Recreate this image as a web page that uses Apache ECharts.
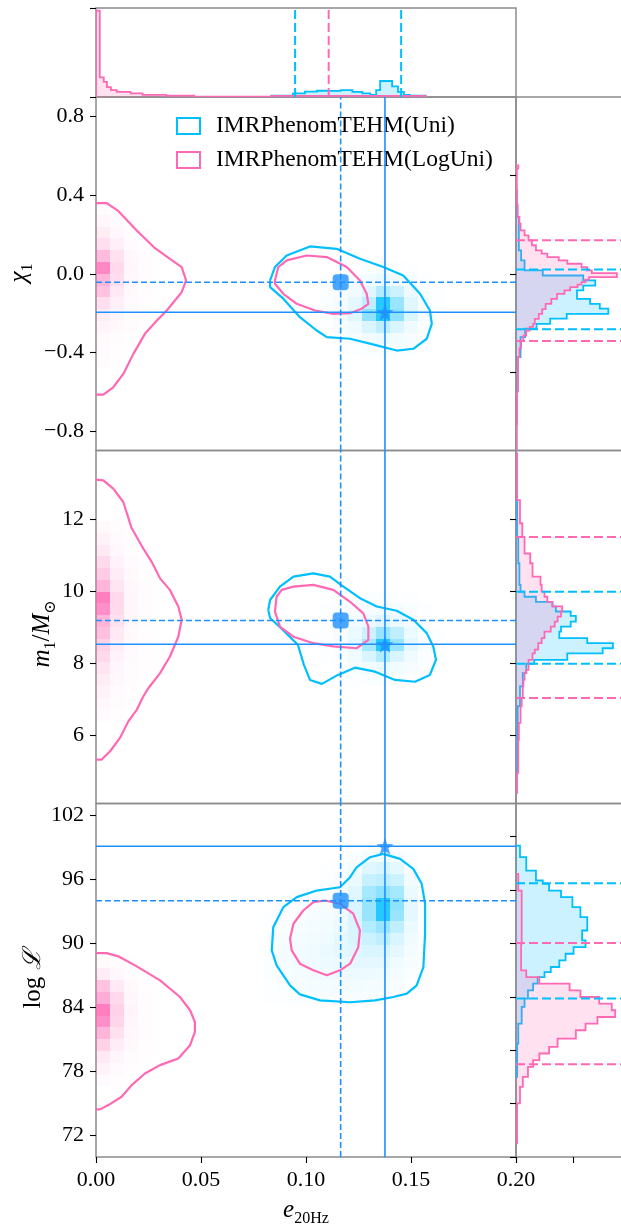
<!DOCTYPE html>
<html>
<head>
<meta charset="utf-8">
<script src="https://cdn.jsdelivr.net/npm/echarts@6/dist/echarts.min.js"></script>
<style>
  html, body { margin: 0; padding: 0; background: #fff; }
  #chart { width: 621px; height: 1224px; }
</style>
</head>
<body>
<div id="chart"></div>
<script>
// ---------------- axis ranges ----------------
const eRange = [0, 0.2];
const chiRange = [-0.9, 0.9];
const massRange = [4.1, 13.9];
const logLRange = [70, 103.1];
const NBINS = 30; // 2-D histogram bins per axis

// tick values
const eTicks = [0, 0.05, 0.1, 0.15, 0.2];
const chiTicks = [-0.8, -0.4, 0, 0.4, 0.8];
const massTicks = [6, 8, 10, 12];
const logLTicks = [72, 78, 84, 90, 96, 102];
const chiSideTicks = [-0.5, 0, 0.5];
const massSideTicks = [6, 8, 10, 12];
const logLSideTicks = [70, 75, 80, 85, 90, 95, 100];

// reference (injected) parameters: dashed = square marker, solid = star marker
const eDashed = 0.1165, eSolid = 0.1376;
const chiDashed = -0.043, chiSolid = -0.196;
const massDashed = 9.18, massSolid = 8.52;
const logLDashed = 94.0, logLSolid = 99.1;

// 90% credible bounds / medians shown in the marginals
const eBlueQuant = [0.0948, 0.1453];
const ePinkQuant = [0.1108];
const chiBlueQuant = [0.022, -0.283];
const chiPinkQuant = [0.17, -0.343];
const massBlueQuant = [9.98, 7.98];
const massPinkQuant = [11.5, 7.03];
const logLBlueQuant = [95.64, 84.83];
const logLPinkQuant = [90.03, 78.69];

// ---------------- 1-D histograms: [lo, hi, height] ----------------
const eHistPink = [[0,0.0018,0.97],[0.0018,0.0037,0.22],[0.0037,0.0052,0.17],[0.0052,0.0071,0.11],[0.0071,0.0099,0.077],[0.0099,0.0165,0.057],[0.0165,0.0222,0.04],[0.0222,0.0335,0.023],[0.0335,0.0467,0.015],[0.0467,0.0835,0.004],[0.0835,0.157,0.012]];
const eHistBlue = [[0.0835,0.0938,0.015],[0.0938,0.0995,0.04],[0.0995,0.1052,0.06],[0.1052,0.1108,0.07],[0.1108,0.1165,0.068],[0.1165,0.1221,0.077],[0.1221,0.1268,0.057],[0.1268,0.1306,0.04],[0.1306,0.1334,0.023],[0.1334,0.1353,0.077],[0.1353,0.141,0.18],[0.141,0.1438,0.12],[0.1438,0.1466,0.057],[0.1466,0.1495,0.023],[0.1495,0.157,0.015]];

const chiHistPink = [[-0.9,-0.765,0.01],[-0.765,-0.6,0.02],[-0.6,-0.425,0.035],[-0.425,-0.38,0.06],[-0.38,-0.34,0.09],[-0.34,-0.315,0.13],[-0.315,-0.289,0.18],[-0.289,-0.27,0.24],[-0.27,-0.255,0.3],[-0.255,-0.23,0.33],[-0.23,-0.204,0.4],[-0.204,-0.18,0.46],[-0.18,-0.153,0.52],[-0.153,-0.128,0.62],[-0.128,-0.102,0.72],[-0.102,-0.085,0.85],[-0.085,-0.068,0.95],[-0.068,-0.055,1.08],[-0.055,-0.043,1.15],[-0.043,-0.03,1.22],[-0.03,-0.017,1.28],[-0.017,0.003,1.77],[0.003,0.017,1.33],[0.017,0.034,1.25],[0.034,0.051,1.15],[0.051,0.068,0.9],[0.068,0.085,0.75],[0.085,0.102,0.55],[0.102,0.119,0.45],[0.119,0.145,0.35],[0.145,0.17,0.28],[0.17,0.195,0.22],[0.195,0.221,0.15],[0.221,0.255,0.08],[0.255,0.289,0.06],[0.289,0.35,0.03],[0.35,0.42,0.02],[0.42,0.535,0.015],[0.535,0.552,0.04]];
const chiHistBlue = [[-0.9,-0.595,0.01],[-0.595,-0.425,0.03],[-0.425,-0.323,0.08],[-0.323,-0.28,0.16],[-0.28,-0.255,0.36],[-0.255,-0.229,0.6],[-0.229,-0.204,0.89],[-0.204,-0.178,1.62],[-0.178,-0.153,1.47],[-0.153,-0.128,1.3],[-0.128,-0.085,1.07],[-0.085,-0.06,1.18],[-0.06,-0.034,1.39],[-0.034,-0.009,1.18],[-0.009,0.017,0.47],[0.017,0.068,0.15],[0.068,0.119,0.09],[0.119,0.289,0.05],[0.289,0.424,0.02]];

const massHistPink = [[4.4,4.95,0.02],[4.95,5.87,0.04],[5.87,6.34,0.05],[6.34,6.8,0.08],[6.8,7.03,0.1],[7.03,7.35,0.12],[7.35,7.53,0.13],[7.53,7.72,0.15],[7.72,7.81,0.18],[7.81,8.09,0.22],[8.09,8.27,0.29],[8.27,8.37,0.33],[8.37,8.55,0.39],[8.55,8.69,0.45],[8.69,8.87,0.5],[8.87,9.01,0.61],[9.01,9.15,0.68],[9.15,9.29,0.73],[9.29,9.43,0.79],[9.43,9.57,0.81],[9.57,9.7,0.64],[9.7,9.84,0.55],[9.84,9.98,0.5],[9.98,10.17,0.45],[10.17,10.4,0.43],[10.4,10.77,0.29],[10.77,11.04,0.25],[11.04,11.5,0.15],[11.5,11.88,0.11],[11.88,12.52,0.07],[12.52,13.81,0.02]];
const massHistBlue = [[4.4,5.87,0.02],[5.87,6.8,0.03],[6.8,7.35,0.07],[7.35,7.72,0.12],[7.72,7.98,0.18],[7.98,8.09,0.32],[8.09,8.27,0.9],[8.27,8.41,1.52],[8.41,8.55,1.7],[8.55,8.69,1.25],[8.69,8.87,0.76],[8.87,9.01,0.79],[9.01,9.15,0.96],[9.15,9.31,1.05],[9.31,9.43,0.96],[9.43,9.57,0.7],[9.57,9.7,0.64],[9.7,9.84,0.35],[9.84,9.98,0.15],[9.98,10.17,0.08],[10.17,10.77,0.06],[10.77,11.5,0.04],[11.5,13.81,0.02]];

const logLHistPink = [[71.28,75.02,0.02],[75.02,76.57,0.07],[76.57,77.51,0.12],[77.51,78.44,0.21],[78.44,79.07,0.3],[79.07,79.69,0.41],[79.69,80.31,0.58],[80.31,81.09,0.73],[81.09,81.87,1.05],[81.87,82.49,1.22],[82.49,83.11,1.43],[83.11,83.74,1.74],[83.74,84.36,1.68],[84.36,84.98,1.46],[84.98,85.61,1.13],[85.61,86.23,0.94],[86.23,86.85,0.41],[86.85,87.48,0.18],[87.48,89.97,0.09],[89.97,94.95,0.1],[94.95,96.51,0.04]];
const logLHistBlue = [[77.51,80.62,0.02],[80.62,82.49,0.04],[82.49,84.05,0.1],[84.05,84.83,0.15],[84.83,85.61,0.21],[85.61,86.23,0.3],[86.23,86.85,0.38],[86.85,87.32,0.5],[87.32,87.79,0.61],[87.79,88.41,0.76],[88.41,89.03,0.87],[89.03,89.66,1.01],[89.66,90.28,1.22],[90.28,91.21,1.16],[91.21,92.46,1.25],[92.46,93.39,1.13],[93.39,94.33,0.99],[94.33,94.95,0.79],[94.95,95.58,0.58],[95.58,95.89,0.47],[95.89,96.82,0.35],[96.82,98.07,0.18],[98.07,99.16,0.07]];

// ---------------- 2-D histogram densities (top row first) ----------------
// corner = [first column index, lowest row index] on the NBINS x NBINS grid
const chiPinkCorner = [0, 7];
const chiPinkDensity = [
  [0.02,0.01,0,0],[0.06,0.03,0.01,0],[0.12,0.05,0.02,0.01],[0.22,0.1,0.03,0.01],
  [0.45,0.2,0.05,0.02],[0.8,0.25,0.06,0.02],[0.5,0.22,0.05,0.02],[0.4,0.15,0.04,0.02],
  [0.22,0.1,0.03,0.01],[0.12,0.06,0.02,0.01],[0.07,0.04,0.02,0.01],[0.04,0.02,0.01,0],
  [0.03,0.01,0,0],[0.02,0.01,0,0]];
const chiBlueCorner = [16, 8];
const chiBlueDensity = [
  [0,0,0.01,0.02,0.03,0.02,0.01,0,0],
  [0.01,0.02,0.03,0.05,0.08,0.05,0.03,0.01,0],
  [0.01,0.03,0.06,0.12,0.3,0.2,0.07,0.02,0.01],
  [0.02,0.04,0.1,0.25,0.85,0.4,0.12,0.03,0.01],
  [0.02,0.05,0.12,0.45,0.85,0.45,0.15,0.04,0.01],
  [0.01,0.03,0.06,0.15,0.25,0.15,0.06,0.02,0],
  [0,0.02,0.03,0.05,0.07,0.05,0.03,0.01,0],
  [0,0.01,0.01,0.02,0.02,0.02,0.01,0,0]];

const massPinkCorner = [0, 7];
const massPinkDensity = [
  [0.04,0.02,0.01,0],[0.08,0.03,0.01,0],[0.14,0.05,0.02,0.01],[0.25,0.08,0.03,0.01],
  [0.35,0.12,0.04,0.01],[0.5,0.18,0.05,0.02],[0.85,0.25,0.06,0.02],[0.75,0.25,0.06,0.02],
  [0.5,0.2,0.05,0.02],[0.42,0.15,0.04,0.01],[0.3,0.12,0.03,0.01],[0.25,0.08,0.03,0.01],
  [0.18,0.06,0.02,0.01],[0.12,0.05,0.02,0],[0.08,0.03,0.01,0],[0.05,0.02,0.01,0],[0.03,0.01,0,0]];
const massBlueCorner = [16, 10];
const massBlueDensity = [
  [0,0.01,0.01,0.02,0.02,0.01,0.01,0,0],
  [0.01,0.02,0.03,0.04,0.05,0.04,0.02,0.01,0],
  [0.01,0.02,0.05,0.08,0.12,0.08,0.04,0.01,0],
  [0.01,0.03,0.08,0.2,0.4,0.25,0.08,0.02,0.01],
  [0.01,0.03,0.1,0.35,0.85,0.4,0.1,0.03,0.01],
  [0.01,0.02,0.06,0.15,0.3,0.15,0.06,0.02,0],
  [0,0.01,0.03,0.05,0.08,0.05,0.03,0.01,0],
  [0,0,0.01,0.02,0.02,0.02,0.01,0,0]];

const logLPinkCorner = [0, 6];
const logLPinkDensity = [
  [0.04,0.02,0.01,0],[0.12,0.05,0.02,0.01],[0.4,0.15,0.04,0.01],[0.55,0.25,0.06,0.02],
  [0.85,0.3,0.07,0.02],[0.75,0.28,0.06,0.02],[0.5,0.2,0.05,0.02],[0.3,0.12,0.04,0.01],
  [0.15,0.06,0.02,0.01],[0.08,0.03,0.01,0],[0.03,0.01,0,0]];
const logLBlueCorner = [12, 13];
const logLBlueDensity = [
  [0,0,0,0,0,0,0.02,0.04,0.05,0.03,0.01,0],
  [0,0,0,0,0.01,0.02,0.05,0.12,0.15,0.1,0.03,0],
  [0,0,0,0,0.01,0.03,0.08,0.22,0.25,0.2,0.05,0.01],
  [0,0,0.01,0.01,0.02,0.04,0.12,0.35,0.45,0.35,0.08,0.01],
  [0,0.01,0.01,0.02,0.03,0.05,0.15,0.4,0.85,0.45,0.1,0.02],
  [0.01,0.01,0.02,0.03,0.04,0.06,0.15,0.4,0.85,0.4,0.1,0.02],
  [0.01,0.02,0.03,0.04,0.05,0.08,0.15,0.3,0.4,0.25,0.08,0.01],
  [0.01,0.03,0.04,0.05,0.06,0.1,0.15,0.2,0.25,0.15,0.06,0.01],
  [0.02,0.04,0.05,0.06,0.08,0.1,0.12,0.15,0.15,0.1,0.04,0.01],
  [0.02,0.04,0.05,0.06,0.07,0.08,0.1,0.1,0.1,0.06,0.03,0],
  [0.02,0.03,0.04,0.05,0.06,0.06,0.07,0.07,0.06,0.04,0.02,0],
  [0.01,0.02,0.03,0.04,0.04,0.05,0.05,0.04,0.04,0.03,0.01,0],
  [0.01,0.01,0.02,0.02,0.03,0.03,0.03,0.03,0.02,0.01,0,0]];

// ---------------- 90% contours: [e, value] ----------------
const chiContourPinkLow = [[0,0.36],[0.0051,0.36],[0.0106,0.32],[0.0194,0.22],[0.0281,0.13],[0.0352,0.076],[0.0408,0.034],[0.0429,-0.034],[0.0408,-0.094],[0.0337,-0.187],[0.029,-0.238],[0.0233,-0.306],[0.0178,-0.408],[0.013,-0.51],[0.0082,-0.578],[0.0035,-0.615],[0,-0.615]];
const chiContourBlue = [[0.0829,-0.034],[0.0852,0.034],[0.0908,0.093],[0.1019,0.139],[0.1146,0.127],[0.1257,0.076],[0.1368,0.034],[0.1463,-0.009],[0.1543,-0.102],[0.159,-0.187],[0.1599,-0.255],[0.1575,-0.331],[0.1511,-0.382],[0.1432,-0.391],[0.1337,-0.365],[0.121,-0.331],[0.1099,-0.323],[0.1051,-0.289],[0.0971,-0.221],[0.0892,-0.127],[0.0829,-0.068],[0.0829,-0.034]];
const chiContourPinkHigh = [[0.0852,-0.034],[0.0868,0.034],[0.0908,0.068],[0.1003,0.093],[0.1099,0.085],[0.1194,0.034],[0.1257,-0.034],[0.1289,-0.102],[0.1297,-0.153],[0.1265,-0.178],[0.121,-0.201],[0.113,-0.204],[0.1043,-0.187],[0.0956,-0.153],[0.0892,-0.102],[0.0852,-0.051],[0.0852,-0.034]];

const massContourPinkLow = [[0,13.09],[0.0035,13.07],[0.0082,12.84],[0.013,12.47],[0.017,11.74],[0.0225,11.18],[0.0265,10.81],[0.0305,10.35],[0.0352,10.03],[0.0392,9.57],[0.0408,9.2],[0.0392,8.73],[0.0352,8.18],[0.0305,7.72],[0.0249,7.3],[0.0225,7.07],[0.0194,6.7],[0.0154,6.38],[0.0114,5.92],[0.0067,5.55],[0.0027,5.32],[0,5.32]];
const massContourBlue = [[0.082,9.47],[0.0829,9.75],[0.0876,10.12],[0.094,10.4],[0.1035,10.49],[0.1114,10.4],[0.1178,10.12],[0.1257,9.8],[0.1337,9.57],[0.1432,9.45],[0.1511,9.2],[0.1575,8.83],[0.1606,8.46],[0.1619,8.09],[0.159,7.67],[0.1519,7.48],[0.1424,7.53],[0.1329,7.76],[0.1233,7.87],[0.1152,7.67],[0.1076,7.42],[0.1019,7.53],[0.099,7.95],[0.0962,8.5],[0.089,8.92],[0.0829,9.25],[0.082,9.47]];
const massContourPinkHigh = [[0.086,9.84],[0.0852,9.43],[0.0876,9.01],[0.094,8.73],[0.1035,8.55],[0.113,8.46],[0.1241,8.41],[0.1297,8.64],[0.1297,9.01],[0.1273,9.38],[0.121,9.7],[0.113,10.03],[0.1035,10.17],[0.094,10.12],[0.0884,10.03],[0.086,9.84]];

const logLContourPinkLow = [[0,89.09],[0.0051,89.09],[0.0106,88.79],[0.0194,87.85],[0.0305,86.54],[0.04,84.98],[0.0448,83.74],[0.0471,82.64],[0.0471,81.71],[0.0448,80.47],[0.0392,79.22],[0.0305,78.6],[0.0233,77.82],[0.017,76.73],[0.0122,75.64],[0.0059,74.86],[0.0019,74.46],[0,74.46]];
const logLContourBlue = [[0.1368,98.38],[0.1448,97.92],[0.1511,96.98],[0.1551,95.58],[0.1567,93.71],[0.1567,90.91],[0.1559,87.79],[0.1527,86.07],[0.148,85.3],[0.1416,84.98],[0.1329,84.67],[0.121,84.49],[0.1067,84.67],[0.0971,85.23],[0.0924,86.07],[0.086,87.94],[0.0837,89.35],[0.0844,91.52],[0.0892,93.39],[0.0956,94.33],[0.1051,94.95],[0.1162,95.26],[0.121,96.2],[0.1241,97.13],[0.1305,98.07],[0.1368,98.38]];
const logLContourPinkHigh = [[0.109,94.02],[0.1162,93.71],[0.1225,92.78],[0.1257,91.21],[0.1249,89.65],[0.121,88.1],[0.1162,87.48],[0.1099,87.01],[0.1035,87.48],[0.0971,88.1],[0.0932,89.35],[0.0924,90.44],[0.094,91.84],[0.0987,93.08],[0.1035,93.86],[0.109,94.02]];

// ---------------- styling ----------------
const BLUE = '#00BFFF', BLUE_RGB = '0,191,255';
const PINK = '#FF69B4', PINK_RGB = '255,105,180';
const CROSS = '#1E90FF';
const SERIF = '"Liberation Serif", "DejaVu Serif", serif';
const SPINE = '#8c8c8c';
const SIDE_W = 110;           // marginal panel width, runs past the right edge
const SIDE_UNIT = 57;         // pixels per density unit in the marginals
const SIDE_MAX = SIDE_W / SIDE_UNIT;

const gridDefs = [
  { left: 96, top: 8, width: 420, height: 89 },           // 0: e marginal
  { left: 96, top: 97, width: 420, height: 353.5 },       // 1: chi
  { left: 96, top: 450.5, width: 420, height: 353 },      // 2: mass
  { left: 96, top: 803.5, width: 420, height: 353.5 },    // 3: logL
  { left: 516, top: 97, width: SIDE_W, height: 353.5 },   // 4: chi marginal
  { left: 516, top: 450.5, width: SIDE_W, height: 353 },  // 5: mass marginal
  { left: 516, top: 803.5, width: SIDE_W, height: 353.5 } // 6: logL marginal
].map(g => Object.assign({
  show: true, borderColor: SPINE, borderWidth: 1.5, backgroundColor: 'transparent',
  containLabel: false, outerBoundsMode: 'none'
}, g));

const tickStyle = { lineStyle: { color: '#000', width: 1.1 }, length: 6, inside: false };
const labelFont = { fontFamily: SERIF, fontSize: 22, color: '#000' };
const minusFmt = d => v => (v < 0 ? '\u2212' : '') + Math.abs(v).toFixed(d);

function hiddenAxis(grid, range, ticks) {
  return {
    type: 'value', gridIndex: grid, min: range[0], max: range[1],
    axisLine: { show: false }, splitLine: { show: false },
    axisLabel: { show: false },
    axisTick: ticks ? Object.assign({ show: true, customValues: ticks }, tickStyle) : { show: false }
  };
}
function labelledAxis(grid, range, ticks, fmt) {
  return {
    type: 'value', gridIndex: grid, min: range[0], max: range[1],
    axisLine: { show: false }, splitLine: { show: false },
    axisTick: Object.assign({ show: true, customValues: ticks }, tickStyle),
    axisLabel: Object.assign({ show: true, customValues: ticks, margin: 12, formatter: fmt }, labelFont)
  };
}

const xAxes = [
  hiddenAxis(0, eRange), hiddenAxis(1, eRange), hiddenAxis(2, eRange),
  labelledAxis(3, eRange, eTicks, minusFmt(2)),
  hiddenAxis(4, [0, SIDE_MAX]), hiddenAxis(5, [0, SIDE_MAX]), hiddenAxis(6, [0, SIDE_MAX], [0, 1])
];
const yAxes = [
  hiddenAxis(0, [0, 1], [0, 1]),
  labelledAxis(1, chiRange, chiTicks, minusFmt(1)),
  labelledAxis(2, massRange, massTicks, minusFmt(0)),
  labelledAxis(3, logLRange, logLTicks, minusFmt(0)),
  hiddenAxis(4, chiRange, chiSideTicks),
  hiddenAxis(5, massRange, massSideTicks),
  hiddenAxis(6, logLRange, logLSideTicks)
];

// ---------------- series builders ----------------
const series = [];

function densityCells(corner, density, xr, yr) {
  const dx = (xr[1] - xr[0]) / NBINS, dy = (yr[1] - yr[0]) / NBINS;
  const out = [];
  const nRows = density.length;
  density.forEach((row, i) => {
    const k = corner[1] + nRows - 1 - i;
    row.forEach((v, j) => {
      if (v > 0) {
        const c = corner[0] + j;
        out.push([xr[0] + c * dx, xr[0] + (c + 1) * dx, yr[0] + k * dy, yr[0] + (k + 1) * dy, v]);
      }
    });
  });
  return out;
}
function addCells(grid, data, rgb) {
  series.push({
    type: 'custom', xAxisIndex: grid, yAxisIndex: grid, data, silent: true, clip: true, z: 1,
    renderItem(params, api) {
      const a = api.coord([api.value(0), api.value(3)]);
      const b = api.coord([api.value(1), api.value(2)]);
      const x0 = Math.round(a[0]), y0 = Math.round(a[1]);
      const x1 = Math.round(b[0]), y1 = Math.round(b[1]);
      return { type: 'rect', shape: { x: x0, y: y0, width: x1 - x0, height: y1 - y0 },
               style: { fill: 'rgba(' + rgb + ',' + api.value(4) + ')' } };
    }
  });
}
function addLine(grid, data, color, width, dash, z) {
  series.push({
    type: 'line', xAxisIndex: grid, yAxisIndex: grid, data, symbol: 'none', showSymbol: false,
    silent: true, clip: true, z: z || 3,
    lineStyle: { color, width, type: dash || 'solid', cap: 'butt' }
  });
}
function addHist(grid, bins, rgb, sideways) {
  series.push({
    type: 'custom', xAxisIndex: grid, yAxisIndex: grid, data: bins, silent: true, clip: true, z: 2,
    renderItem(params, api) {
      if (params.dataIndexInside !== 0) return null;
      const n = params.dataInsideLength;
      const pt = (pos, h) => sideways ? api.coord([h, pos]) : api.coord([pos, h]);
      const pts = [pt(api.value(0, 0), 0)];
      for (let i = 0; i < n; i++) {
        const h = api.value(2, i);
        pts.push(pt(api.value(0, i), h));
        pts.push(pt(api.value(1, i), h));
      }
      pts.push(pt(api.value(1, n - 1), 0));
      return { type: 'group', children: [
        { type: 'polygon', shape: { points: pts }, style: { fill: 'rgba(' + rgb + ',0.2)' } },
        { type: 'polyline', shape: { points: pts }, style: { fill: null, stroke: 'rgb(' + rgb + ')', lineWidth: 1.8 } }
      ] };
    }
  });
}
function addMarkers(grid, square, star) {
  series.push({
    type: 'scatter', xAxisIndex: grid, yAxisIndex: grid, silent: true, z: 6,
    data: [square], symbol: 'roundRect', symbolSize: 16, itemStyle: { color: CROSS }
  });
  series.push({
    type: 'scatter', xAxisIndex: grid, yAxisIndex: grid, silent: true, z: 6,
    data: [star], symbolSize: 17, itemStyle: { color: CROSS },
    symbol: 'path://M50,2 L61.8,36.2 L97.6,36.9 L69,58.8 L79.4,93.1 L50,72.6 L20.6,93.1 L31,58.8 L2.4,36.9 L38.2,36.2 Z'
  });
}

// 2-D densities
addCells(1, densityCells(chiPinkCorner, chiPinkDensity, eRange, chiRange), PINK_RGB);
addCells(1, densityCells(chiBlueCorner, chiBlueDensity, eRange, chiRange), BLUE_RGB);
addCells(2, densityCells(massPinkCorner, massPinkDensity, eRange, massRange), PINK_RGB);
addCells(2, densityCells(massBlueCorner, massBlueDensity, eRange, massRange), BLUE_RGB);
addCells(3, densityCells(logLPinkCorner, logLPinkDensity, eRange, logLRange), PINK_RGB);
addCells(3, densityCells(logLBlueCorner, logLBlueDensity, eRange, logLRange), BLUE_RGB);

// contours
[[1, chiContourBlue, BLUE], [1, chiContourPinkLow, PINK], [1, chiContourPinkHigh, PINK],
 [2, massContourBlue, BLUE], [2, massContourPinkLow, PINK], [2, massContourPinkHigh, PINK],
 [3, logLContourBlue, BLUE], [3, logLContourPinkLow, PINK], [3, logLContourPinkHigh, PINK]]
  .forEach(([g, d, c]) => addLine(g, d, c, 2.2));

// injection cross-hairs
const panels = [[1, chiRange, chiDashed, chiSolid], [2, massRange, massDashed, massSolid], [3, logLRange, logLDashed, logLSolid]];
panels.forEach(([g, r, yd, ys]) => {
  addLine(g, [[eDashed, r[0]], [eDashed, r[1]]], CROSS, 1.6, [6, 3], 4);
  addLine(g, [[eSolid, r[0]], [eSolid, r[1]]], CROSS, 1.6, 'solid', 4);
  addLine(g, [[eRange[0], yd], [eRange[1], yd]], CROSS, 1.6, [6, 3], 4);
  addLine(g, [[eRange[0], ys], [eRange[1], ys]], CROSS, 1.6, 'solid', 4);
  addMarkers(g, [eDashed, yd], [eSolid, ys]);
});

// marginals
addHist(0, eHistBlue, BLUE_RGB, false);
addHist(0, eHistPink, PINK_RGB, false);
eBlueQuant.forEach(v => addLine(0, [[v, 0], [v, 1]], BLUE, 2, [9, 4], 5));
ePinkQuant.forEach(v => addLine(0, [[v, 0], [v, 1]], PINK, 2, [9, 4], 5));

[[4, chiHistBlue, chiHistPink, chiBlueQuant, chiPinkQuant],
 [5, massHistBlue, massHistPink, massBlueQuant, massPinkQuant],
 [6, logLHistBlue, logLHistPink, logLBlueQuant, logLPinkQuant]].forEach(([g, hb, hp, qb, qp]) => {
  addHist(g, hb, BLUE_RGB, true);
  addHist(g, hp, PINK_RGB, true);
  qb.forEach(v => addLine(g, [[0, v], [SIDE_MAX, v]], BLUE, 2, [9, 4], 5));
  qp.forEach(v => addLine(g, [[0, v], [SIDE_MAX, v]], PINK, 2, [9, 4], 5));
});

// ---------------- text: axis titles and legend ----------------
const rich = {
  i: { fontFamily: SERIF, fontStyle: 'italic', fontSize: 25, lineHeight: 34, verticalAlign: 'middle', color: '#000' },
  r: { fontFamily: SERIF, fontSize: 25, lineHeight: 34, verticalAlign: 'middle', color: '#000' },
  s: { fontFamily: SERIF, fontSize: 16, lineHeight: 16, verticalAlign: 'bottom', color: '#000' }
};
function title(text, x, y, rotated) {
  return { type: 'text', x, y, rotation: rotated ? Math.PI / 2 : 0, silent: true,
           style: { text, rich, align: 'center', verticalAlign: 'middle' } };
}
const legendFont = { fontFamily: SERIF, fontSize: 23.5, fill: '#000', verticalAlign: 'middle', align: 'left' };

const graphic = [
  title('{i|\u03c7}{s|1}', 19, 273, true),
  title('{i|m}{s|1}{r|/}{i|M}{s|\u2299}', 42, 634, true),
  title('{r|log }{i|\u2112}', 33, 979, true),
  title('{i|e}{s|20Hz}', 306, 1210, false),
  { type: 'rect', shape: { x: 177, y: 118, width: 23, height: 16 }, silent: true,
    style: { fill: 'rgba(0,0,0,0)', stroke: BLUE, lineWidth: 2 } },
  { type: 'text', x: 216, y: 126, silent: true, style: Object.assign({ text: 'IMRPhenomTEHM(Uni)' }, legendFont) },
  { type: 'rect', shape: { x: 177, y: 152, width: 23, height: 16 }, silent: true,
    style: { fill: 'rgba(0,0,0,0)', stroke: PINK, lineWidth: 2 } },
  { type: 'text', x: 216, y: 160, silent: true, style: Object.assign({ text: 'IMRPhenomTEHM(LogUni)' }, legendFont) }
];

const chart = echarts.init(document.getElementById('chart'), null, { renderer: 'canvas' });
chart.setOption({
  animation: false,
  backgroundColor: '#fff',
  grid: gridDefs,
  xAxis: xAxes,
  yAxis: yAxes,
  series,
  graphic
});
</script>
</body>
</html>
